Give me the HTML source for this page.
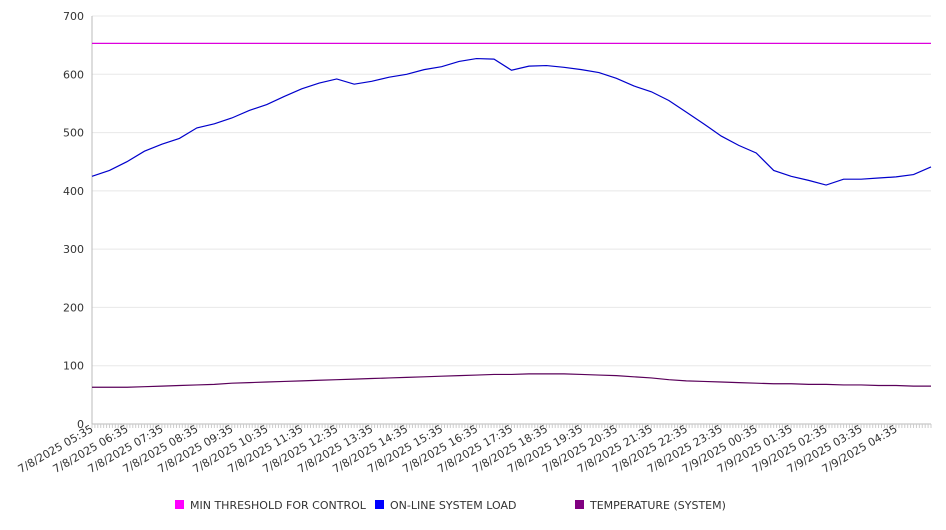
<!DOCTYPE html>
<html><head><meta charset="utf-8"><style>
body{margin:0;background:#fff;font-family:"DejaVu Sans","Liberation Sans",sans-serif;}
svg text{font-family:"DejaVu Sans","Liberation Sans",sans-serif;fill:#333;}
</style></head><body>
<svg id="chart" width="946" height="526" xmlns="http://www.w3.org/2000/svg"></svg>
<script>
const timeLabels=["7/8/2025 05:35","7/8/2025 06:35","7/8/2025 07:35","7/8/2025 08:35","7/8/2025 09:35","7/8/2025 10:35","7/8/2025 11:35","7/8/2025 12:35","7/8/2025 13:35","7/8/2025 14:35","7/8/2025 15:35","7/8/2025 16:35","7/8/2025 17:35","7/8/2025 18:35","7/8/2025 19:35","7/8/2025 20:35","7/8/2025 21:35","7/8/2025 22:35","7/8/2025 23:35","7/9/2025 00:35","7/9/2025 01:35","7/9/2025 02:35","7/9/2025 03:35","7/9/2025 04:35"];
const yTicks=[0,100,200,300,400,500,600,700];
const thresholdValue=653;
const loadValues=[425,435,450,468,480,490,508,515,525,538,548,562,575,585,592,583,588,595,600,608,613,622,627,626,607,614,615,612,608,603,593,580,570,555,535,515,494,478,465,435,425,418,410,420,420,422,424,428,441];
const tempValues=[63,63,63,64,65,66,67,68,70,71,72,73,74,75,76,77,78,79,80,81,82,83,84,85,85,86,86,86,85,84,83,81,79,76,74,73,72,71,70,69,69,68,68,67,67,66,66,65,65];
const seriesNames=["MIN THRESHOLD FOR CONTROL","ON-LINE SYSTEM LOAD","TEMPERATURE (SYSTEM)"];

const svg=document.getElementById('chart');
const NS='http://www.w3.org/2000/svg';
const X0=92,X1=931,Y0=424,Y1=16,YMAX=700;
const hourPx=(X1-X0)/24;
const yS=v=>Y0-(v/YMAX)*(Y0-Y1);
const xIdx=i=>X0+i*(hourPx/2);
function mk(t,a){const e=document.createElementNS(NS,t);for(const k in a)e.setAttribute(k,a[k]);svg.appendChild(e);return e;}

yTicks.forEach(v=>{
  const g=mk('line',{x1:X0,x2:X1,y1:yS(v),y2:yS(v),stroke:v===0?'#bbb':'#e8e8e8','stroke-width':1});
  
  
  const t=mk('text',{x:X0-8,y:yS(v)+4,'text-anchor':'end','font-size':11});
  t.textContent=v;
  
  
});
const ax=mk('line',{x1:X0,x2:X0,y1:Y1,y2:Y0,stroke:'#bbb'});


for(let i=0;i<=288;i++){
  const x=X0+i*hourPx/12;
  const tk=mk('line',{x1:x,x2:x,y1:Y0,y2:Y0+4,stroke:'#ccc'});
  
  
}
timeLabels.forEach((s,i)=>{
  const x=X0+i*hourPx+2,y=Y0+7;
  const t=mk('text',{x:x,y:y,'text-anchor':'end','font-size':11,transform:`rotate(-30 ${x} ${y})`});
  t.textContent=s;
  
  
});
const th=mk('line',{x1:X0,x2:X1,y1:yS(thresholdValue),y2:yS(thresholdValue),stroke:'#dd00dd','stroke-width':1.2});


function line(vals,color,name){
  const p=mk('polyline',{points:vals.map((v,i)=>xIdx(i)+','+yS(v)).join(' '),fill:'none',stroke:color,'stroke-width':1.2});
  
  
}
line(loadValues,'#0000cc','load-line');
line(tempValues,'#5a005a','temperature-line');
const lx=[175,375,575],lc=['#ff00ff','#0000ff','#800080'];
seriesNames.forEach((n,i)=>{
  const r=mk('rect',{x:lx[i],y:500,width:9,height:9,fill:lc[i]});
  
  
  const t=mk('text',{x:lx[i]+15,y:509,'font-size':11});
  t.textContent=n;
  
  
});
</script>
</body></html>
